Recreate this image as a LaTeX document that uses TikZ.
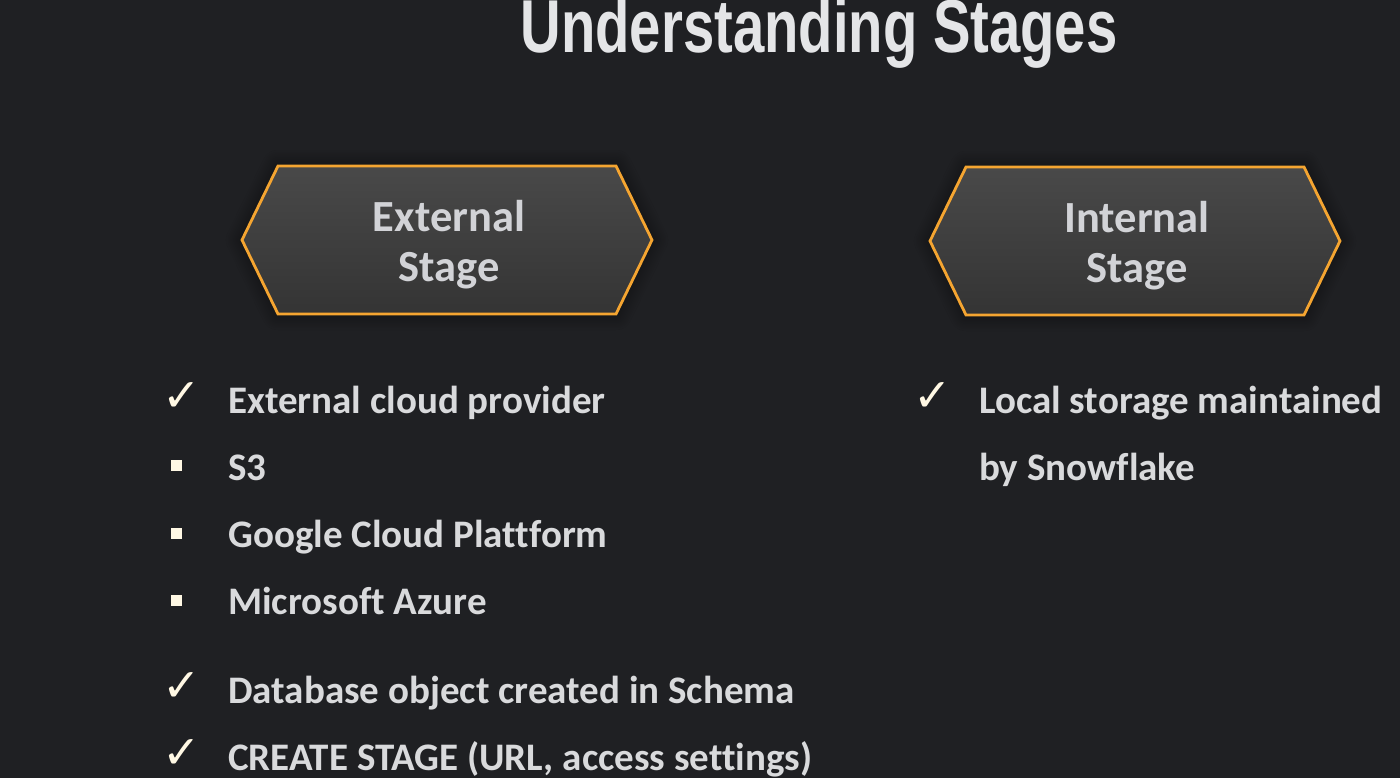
\documentclass[tikz,border=0pt]{standalone}
\usepackage{fontspec}
\setmainfont[Ligatures=NoCommon]{Carlito}
\newfontfamily\titlefont[FakeStretch=0.75]{Liberation Sans}
\newfontfamily\symfont{DejaVu Sans}
\usetikzlibrary{shadows.blur}
\definecolor{bg}{HTML}{1F2023}
\definecolor{hexorange}{HTML}{F5A531}
\definecolor{hextop}{HTML}{494949}
\definecolor{hexbot}{HTML}{343434}
\definecolor{hextext}{HTML}{D2D3D7}
\definecolor{bodytext}{HTML}{D9DADC}
\definecolor{cream}{HTML}{FFF8E4}
\definecolor{titlecol}{HTML}{E4E5E7}
\tikzset{
  hexbox/.style={draw=hexorange, line width=2.8pt, top color=hextop, bottom color=hexbot,
    blur shadow={shadow blur steps=12, shadow xshift=0pt, shadow yshift=0pt, shadow blur radius=16pt, shadow opacity=60}},
  hexlabel/.style={text=hextext, font=\bfseries\fontsize{44.5}{50}\selectfont, align=center},
  item/.style={anchor=base west, text=bodytext, font=\bfseries\fontsize{39}{67}\selectfont, inner sep=0pt},
  checkmark/.style={anchor=base, text=cream, font=\symfont\fontsize{46}{46}\selectfont, inner sep=0pt},
  sqbullet/.style={fill=cream, minimum size=11pt, inner sep=0pt},
}
\begin{document}
\begin{tikzpicture}[x=1pt,y=-1pt]
\fill[bg] (0,0) rectangle (1400,778);
\useasboundingbox (0,0) rectangle (1400,778);
% title
\node[anchor=base, inner sep=0pt, text=titlecol] (title) at (819,53)
  {\titlefont\bfseries\fontsize{75}{75}\selectfont Understanding Stages};
% hexagons
\coordinate (extc) at (447,240);
\coordinate (intc) at (1135,241);
\path[hexbox] ([xshift=-205pt]extc) -- ([xshift=-169pt,yshift=74pt]extc) -- ([xshift=169pt,yshift=74pt]extc)
  -- ([xshift=205pt]extc) -- ([xshift=169pt,yshift=-74pt]extc) -- ([xshift=-169pt,yshift=-74pt]extc) -- cycle;
\path[hexbox] ([xshift=-205pt]intc) -- ([xshift=-169pt,yshift=74pt]intc) -- ([xshift=169pt,yshift=74pt]intc)
  -- ([xshift=205pt]intc) -- ([xshift=169pt,yshift=-74pt]intc) -- ([xshift=-169pt,yshift=-74pt]intc) -- cycle;
\node[hexlabel] (ext) at (449,245) {External\\Stage};
\node[hexlabel] (int) at (1137,246) {Internal\\Stage};
% left list
\node[checkmark] (c1) at (182,411) {✓};
\node[item] (t1) at (228,413) {External cloud provider};
\node[sqbullet] (b1) at (176,465) {};
\node[item] (t2) at (228,480) {S3};
\node[sqbullet] (b2) at (176,533) {};
\node[item] (t3) at (228,547) {Google Cloud Plattform};
\node[sqbullet] (b3) at (176,600) {};
\node[item] (t4) at (228,614) {Microsoft Azure};
\node[checkmark] (c2) at (182,701) {✓};
\node[item] (t5) at (228,703) {Database object created in Schema};
\node[checkmark] (c3) at (182,768) {✓};
\node[item] (t6) at (228,770) {CREATE STAGE (URL, access settings)};
% right list
\node[checkmark] (c4) at (933,411) {✓};
\node[item] (r1) at (979,413) {Local storage maintained};
\node[item] (r2) at (979,480) {by Snowflake};
\end{tikzpicture}
\end{document}
